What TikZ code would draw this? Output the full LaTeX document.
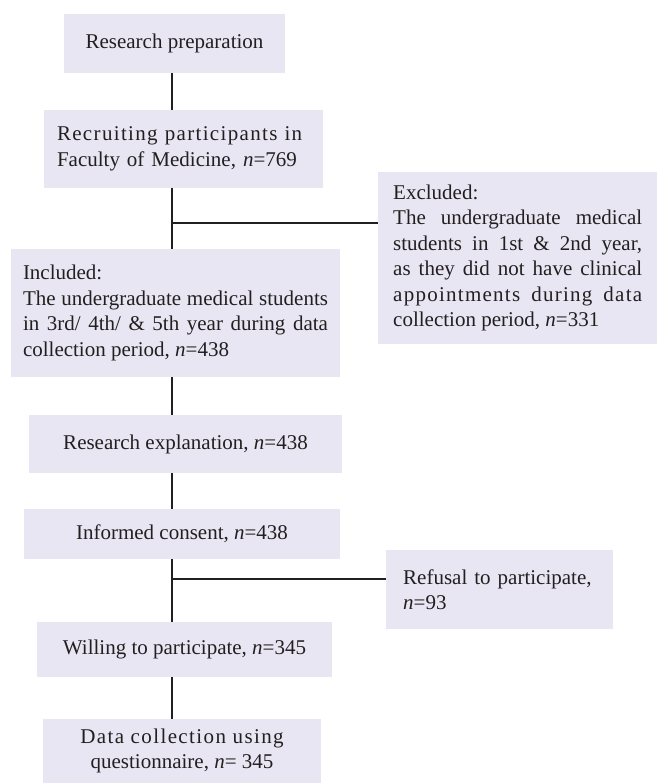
\documentclass[tikz,border=0pt]{standalone}
\usepackage{fontspec}
\setmainfont{Liberation Serif}
\usepackage{tikz}
\usepackage{xcolor}
\definecolor{boxfill}{RGB}{232,230,242}
\definecolor{inkdark}{RGB}{35,31,32}

\begin{document}
\begin{tikzpicture}[x=1pt,y=-1pt,
      box/.style={fill=boxfill,text=inkdark,inner sep=0pt,
        font=\fontsize{21}{25.5}\selectfont},
      link/.style={draw=inkdark,line width=1.8pt}] % participant flow
      \useasboundingbox (0,0) rectangle (657,783);
      \coordinate (trunk) at (172,0);
      \node[box,minimum width=221pt,minimum height=59pt] (prep) at (174.5,43.5)
        {Research preparation};
      \node[box,minimum width=279pt,minimum height=78pt,text width=253pt,
        inner xsep=13pt,align=left] (recruit) at (183.5,149)
        {{\addfontfeature{LetterSpace=6.4}Recruiting participants in}\\
         Faculty of Medicine, \textit{n}=769};
      \node[box,minimum height=172pt,text width=249pt,inner xsep=15pt,
        align=justify,anchor=west] (excl) at (378,258)
        {Excluded:\\The undergraduate medical\linebreak
         students in 1st \& 2nd year,\linebreak
         as they did not have clinical\linebreak
         {\addfontfeature{LetterSpace=6}appointments during data}\linebreak
         collection period, \textit{n}=331};
      \node[box,minimum height=128pt,text width=305pt,inner xsep=12pt,
        align=justify] (incl) at (175.5,313)
        {Included:\\The undergraduate medical students\linebreak
         in 3rd/ 4th/ \& 5th year during data\linebreak
         collection period, \textit{n}=438};
      \node[box,minimum width=313pt,minimum height=58pt] (explan) at (185.5,444)
        {Research explanation, \textit{n}=438};
      \node[box,minimum width=316pt,minimum height=50pt] (consent) at (182,534)
        {Informed consent, \textit{n}=438};
      \node[box,minimum height=79pt,text width=193pt,inner xsep=17pt,
        align=left,anchor=west] (refusal) at (386,589.5)
        {Refusal to participate,\\\textit{n}=93};
      \node[box,minimum width=295pt,minimum height=55pt] (willing) at (184.5,649.5)
        {Willing to participate, \textit{n}=345};
      \node[box,minimum width=278pt,minimum height=64pt,align=center] (collect)
        at (182,751)
        {{\addfontfeature{LetterSpace=6.6}Data collection using}\\
         questionnaire, \textit{n}= 345};
      \coordinate (split1) at (172,223);
      \coordinate (split2) at (172,579);
      \draw[link] (prep.south -| trunk) -- (recruit.north -| trunk);
      \draw[link] (recruit.south -| trunk) -- (incl.north -| trunk);
      \draw[link] (split1) -- (excl.west |- split1);
      \draw[link] (incl.south -| trunk) -- (explan.north -| trunk);
      \draw[link] (explan.south -| trunk) -- (consent.north -| trunk);
      \draw[link] (consent.south -| trunk) -- (willing.north -| trunk);
      \draw[link] (split2) -- (refusal.west |- split2);
      \draw[link] (willing.south -| trunk) -- (collect.north -| trunk);
    \end{tikzpicture}
\end{document}
